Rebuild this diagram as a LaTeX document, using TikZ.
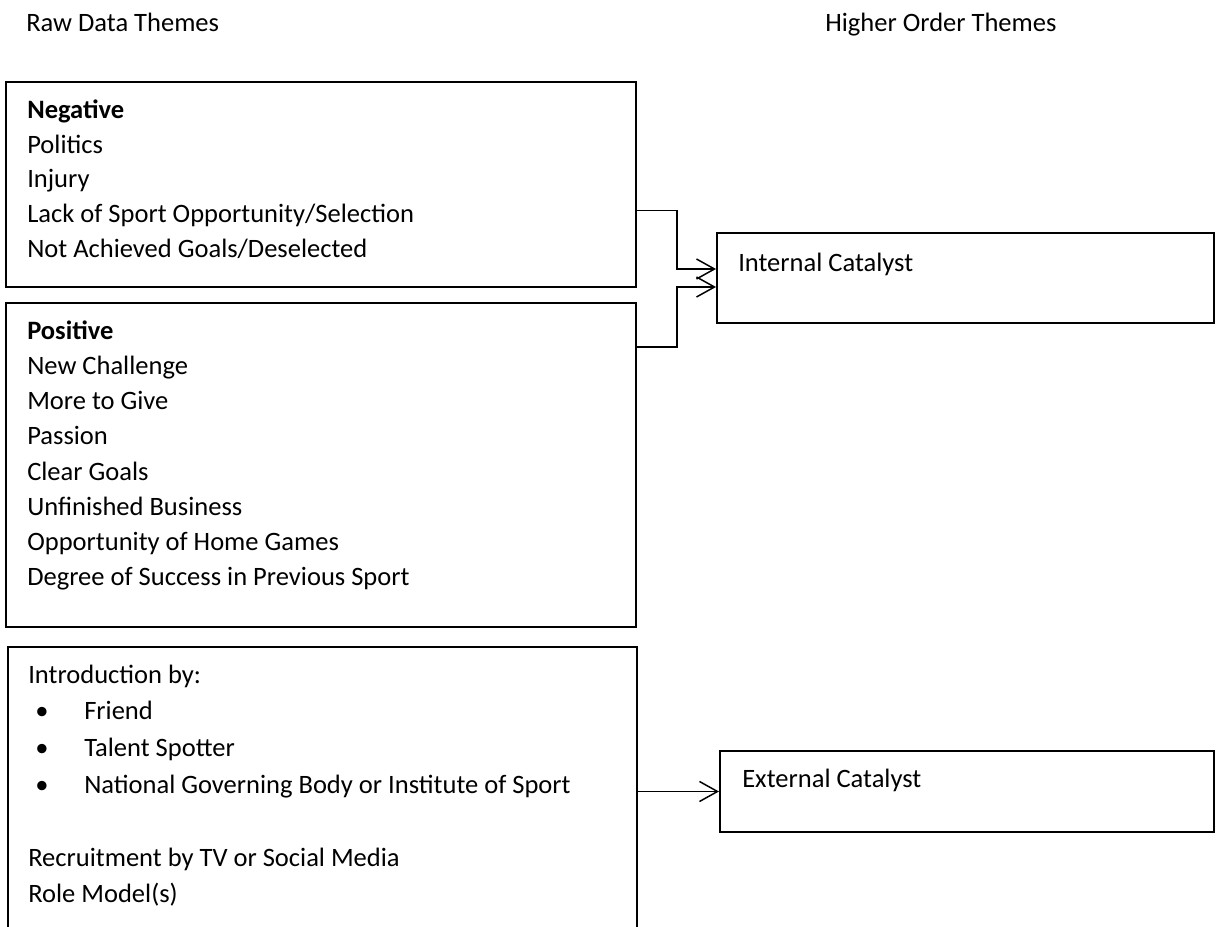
\documentclass[tikz,border=0pt]{standalone}
\usepackage{fontspec}
\setmainfont{Carlito}
\usetikzlibrary{arrows.meta,fit}
\begin{document}
\begin{tikzpicture}[x=0.75pt,y=-0.75pt,
  box/.style={draw, line width=1.5pt, inner sep=0pt, rectangle},
  txt/.style={anchor=base west, inner sep=0pt, font=\fontsize{19.9pt}{24pt}\selectfont},
  conn/.style={line width=0.9pt, -{Straight Barb[length=13.5pt,width=15pt,line width=1.1pt]}}]
\useasboundingbox (0,0) rectangle (1222,927);
\clip (0,0) rectangle (1222,927);

% headers
\node[txt] (h1) at (26,32) {Raw Data Themes};
\node[txt] (h2) at (825,32) {Higher Order Themes};

% boxes
\node[box, fit={(6,82) (636,287)}] (neg) {};
\node[box, fit={(6,303) (636,627)}] (pos) {};
\node[box, fit={(8,647) (637,960)}] (intro) {};
\node[box, fit={(717,233) (1214,323)}] (ic) {};
\node[box, fit={(720,751) (1214,832)}] (ec) {};

% negative text
\node[txt] (n0) at (27,119) {\textbf{Negative}};
\node[txt] (n1) at (27,154) {Politics};
\node[txt] (n2) at (27,188) {Injury};
\node[txt] (n3) at (27,223) {Lack of Sport Opportunity/Selection};
\node[txt] (n4) at (27,258) {Not Achieved Goals/Deselected};

% positive text
\node[txt] (p0) at (27,340) {\textbf{Positive}};
\node[txt] (p1) at (27,375) {New Challenge};
\node[txt] (p2) at (27,410) {More to Give};
\node[txt] (p3) at (27,445) {Passion};
\node[txt] (p4) at (27,480) {Clear Goals};
\node[txt] (p5) at (27,515) {Unfinished Business};
\node[txt] (p6) at (27,550) {Opportunity of Home Games};
\node[txt] (p7) at (27,585) {Degree of Success in Previous Sport};

% introduction text
\node[txt] (i0) at (28,683) {Introduction by:};
\node[txt] (b1) at (35,719) {•};
\node[txt] (i1) at (84,719) {Friend};
\node[txt] (b2) at (35,756) {•};
\node[txt] (i2) at (84,756) {Talent Spotter};
\node[txt] (b3) at (35,793) {•};
\node[txt] (i3) at (84,793) {National Governing Body or Institute of Sport};
\node[txt] (i4) at (28,866) {Recruitment by TV or Social Media};
\node[txt] (i5) at (28,902) {Role Model(s)};

% higher order text
\node[txt] (ict) at (738,272) {Internal Catalyst};
\node[txt] (ect) at (742,787) {External Catalyst};

% connectors
\draw[conn] ([yshift=-19.5pt]neg.east) -- ++(40,0) |- ([yshift=6.75pt]ic.west);
\draw[conn] ([yshift=88.5pt]pos.east) -- ++(40,0) |- ([yshift=-6.75pt]ic.west);
\draw[conn] (intro.east |- ec.west) -- (ec.west);
\end{tikzpicture}
\end{document}
